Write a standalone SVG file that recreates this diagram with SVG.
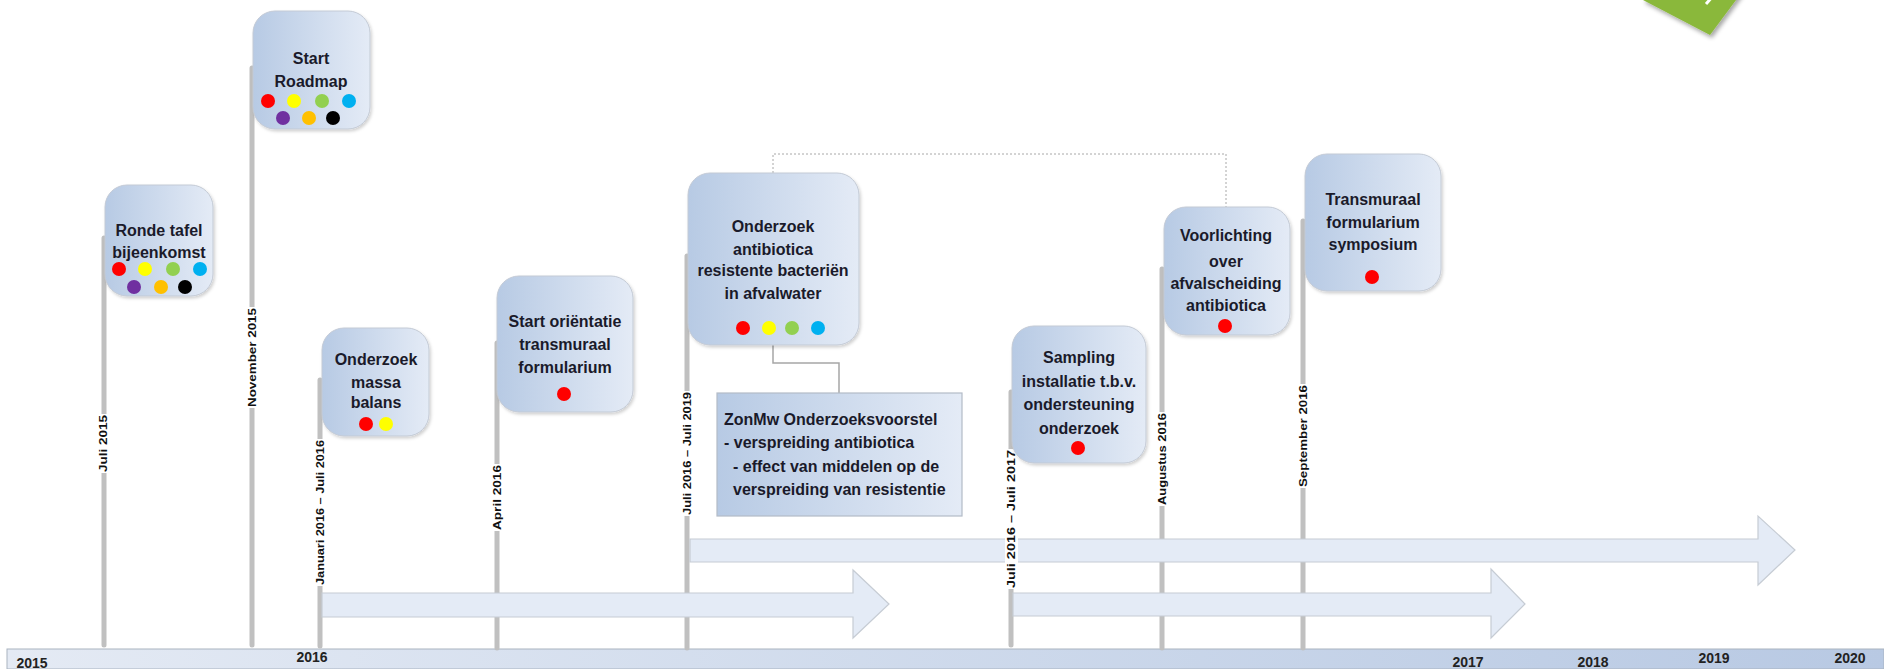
<svg xmlns="http://www.w3.org/2000/svg" width="1884" height="669" viewBox="0 0 1884 669">
<defs>
<linearGradient id="boxg" x1="0" y1="0" x2="1" y2="0">
<stop offset="0" stop-color="#b7cae4"/>
<stop offset="1" stop-color="#e4ebf6"/>
</linearGradient>
<linearGradient id="barg" x1="0" y1="0" x2="1" y2="0">
<stop offset="0" stop-color="#e4eaf4"/>
<stop offset="1" stop-color="#b8c9e3"/>
</linearGradient>
<filter id="sh" x="-10%" y="-10%" width="130%" height="130%">
<feDropShadow dx="1.5" dy="2" stdDeviation="1.5" flood-color="#000" flood-opacity="0.18"/>
</filter>
<filter id="gsh" x="-30%" y="-30%" width="160%" height="160%">
<feDropShadow dx="2" dy="3" stdDeviation="2" flood-color="#000" flood-opacity="0.35"/>
</filter>
</defs>
<style>
.box{fill:url(#boxg);stroke:#c3cad5;stroke-width:1;filter:url(#sh)}
.t{font-family:"Liberation Sans",Arial,sans-serif;font-weight:bold;font-size:16px;fill:#1a1a2a;text-anchor:middle}
.tl{font-family:"Liberation Sans",Arial,sans-serif;font-weight:bold;font-size:16px;fill:#1a1a2a}
.pole{stroke:#c0c0c0;stroke-width:5;stroke-linecap:round;fill:none}
.rt{font-family:"Liberation Sans",Arial,sans-serif;font-weight:bold;font-size:11px;fill:#111}
.arr{fill:#e4ebf6;stroke:#c6ccd4;stroke-width:1.2}
.yr{font-family:"Liberation Sans",Arial,sans-serif;font-weight:bold;font-size:14px;fill:#222;text-anchor:middle}
.red{fill:#ff0000}.yel{fill:#ffff00}.grn{fill:#92d050}.blu{fill:#00b0f0}.pur{fill:#7030a0}.ora{fill:#ffc000}.blk{fill:#000}
</style>

<g id="green-corner">
<polygon points="1643,0 1710,35 1742,-8 1675,-43" fill="#8ab83a" filter="url(#gsh)"/>
<path d="M1706,4 L1713,-4" stroke="#fff" stroke-width="3"/>
</g>

<g id="timeline-bar">
<rect x="7" y="649" width="1877" height="20" fill="url(#barg)" stroke="#a9b3c0" stroke-width="1"/>
<text class="yr" x="32" y="668">2015</text>
<text class="yr" x="312" y="662">2016</text>
<text class="yr" x="1468" y="667">2017</text>
<text class="yr" x="1593" y="667">2018</text>
<text class="yr" x="1714" y="663">2019</text>
<text class="yr" x="1850" y="663">2020</text>
</g>

<g id="poles">
<line class="pole" x1="104" y1="238" x2="104" y2="645"/>
<line class="pole" x1="252" y1="68" x2="252" y2="645"/>
<line class="pole" x1="320" y1="380" x2="320" y2="646"/>
<line class="pole" x1="497" y1="343" x2="497" y2="648"/>
<line class="pole" x1="687" y1="256" x2="687" y2="648"/>
<line class="pole" x1="1011" y1="392" x2="1011" y2="645"/>
<line class="pole" x1="1162" y1="269" x2="1162" y2="648"/>
<line class="pole" x1="1303" y1="221" x2="1303" y2="648"/>
</g>

<g id="arrows">
<polygon class="arr" points="322,593 853,593 853,570 889,604 853,638 853,617 322,617"/>
<polygon class="arr" points="690,539 1758,539 1758,516 1795,550 1758,585 1758,562 690,562"/>
<polygon class="arr" points="1013,593 1491,593 1491,569 1525,604 1491,638 1491,616 1013,616"/>
</g>

<g id="date-labels">
<g transform="translate(103,472) rotate(-90)"><rect x="-1" y="-5" width="59" height="11" fill="#fff"/><text class="rt" x="0" y="4" textLength="57" lengthAdjust="spacingAndGlyphs">Juli 2015</text></g>
<g transform="translate(252,407) rotate(-90)"><rect x="-1" y="-5" width="101" height="11" fill="#fff"/><text class="rt" x="0" y="4" textLength="99" lengthAdjust="spacingAndGlyphs">November 2015</text></g>
<g transform="translate(320,585) rotate(-90)"><rect x="-1" y="-5" width="147" height="11" fill="#fff"/><text class="rt" x="0" y="4" textLength="145" lengthAdjust="spacingAndGlyphs">Januari 2016 – Juli 2016</text></g>
<g transform="translate(497,530) rotate(-90)"><rect x="-1" y="-5" width="67" height="11" fill="#fff"/><text class="rt" x="0" y="4" textLength="65" lengthAdjust="spacingAndGlyphs">April 2016</text></g>
<g transform="translate(687,515) rotate(-90)"><rect x="-1" y="-5" width="125" height="11" fill="#fff"/><text class="rt" x="0" y="4" textLength="123" lengthAdjust="spacingAndGlyphs">Juli 2016 – Juli 2019</text></g>
<g transform="translate(1011,588) rotate(-90)"><rect x="-1" y="-6" width="140" height="13" fill="#fff"/><text class="rt" x="0" y="4" textLength="138" lengthAdjust="spacingAndGlyphs">Juli 2016 – Juli 2017</text></g>
<g transform="translate(1162,505) rotate(-90)"><rect x="-1" y="-5" width="94" height="11" fill="#fff"/><text class="rt" x="0" y="4" textLength="92" lengthAdjust="spacingAndGlyphs">Augustus 2016</text></g>
<g transform="translate(1303,487) rotate(-90)"><rect x="-1" y="-5" width="104" height="11" fill="#fff"/><text class="rt" x="0" y="4" textLength="102" lengthAdjust="spacingAndGlyphs">September 2016</text></g>
</g>

<g id="connectors" fill="none">
<path d="M773,173 V154 H1226 V207" stroke="#a8a8a8" stroke-width="1" stroke-dasharray="2,2"/>
<path d="M773,345 V363 H839 V393" stroke="#a6a6a6" stroke-width="1.5"/>
</g>

<g id="node-ronde-tafel">
<rect class="box" x="105" y="185" width="108" height="111" rx="22"/>
<text class="t" x="159" y="236">Ronde tafel</text>
<text class="t" x="159" y="258">bijeenkomst</text>
<circle class="red" cx="119" cy="269" r="7"/><circle class="yel" cx="145" cy="269" r="7"/><circle class="grn" cx="173" cy="269" r="7"/><circle class="blu" cx="200" cy="269" r="7"/>
<circle class="pur" cx="134" cy="287" r="7"/><circle class="ora" cx="161" cy="287" r="7"/><circle class="blk" cx="185" cy="287" r="7"/>
</g>

<g id="node-start-roadmap">
<rect class="box" x="253" y="11" width="117" height="118" rx="22"/>
<text class="t" x="311" y="64">Start</text>
<text class="t" x="311" y="87">Roadmap</text>
<circle class="red" cx="268" cy="101" r="7"/><circle class="yel" cx="294" cy="101" r="7"/><circle class="grn" cx="322" cy="101" r="7"/><circle class="blu" cx="349" cy="101" r="7"/>
<circle class="pur" cx="283" cy="118" r="7"/><circle class="ora" cx="309" cy="118" r="7"/><circle class="blk" cx="333" cy="118" r="7"/>
</g>

<g id="node-massa-balans">
<rect class="box" x="322" y="328" width="107" height="108" rx="22"/>
<text class="t" x="376" y="365">Onderzoek</text>
<text class="t" x="376" y="388">massa</text>
<text class="t" x="376" y="408">balans</text>
<circle class="red" cx="366" cy="424" r="7"/><circle class="yel" cx="386" cy="424" r="7"/>
</g>

<g id="node-orientatie">
<rect class="box" x="497" y="276" width="136" height="136" rx="22"/>
<text class="t" x="565" y="327">Start oriëntatie</text>
<text class="t" x="565" y="350">transmuraal</text>
<text class="t" x="565" y="373">formularium</text>
<circle class="red" cx="564" cy="394" r="7"/>
</g>

<g id="node-antibiotica">
<rect class="box" x="688" y="173" width="171" height="172" rx="22"/>
<text class="t" x="773" y="232">Onderzoek</text>
<text class="t" x="773" y="255">antibiotica</text>
<text class="t" x="773" y="276">resistente bacteriën</text>
<text class="t" x="773" y="299">in afvalwater</text>
<circle class="red" cx="743" cy="328" r="7"/><circle class="yel" cx="769" cy="328" r="7"/><circle class="grn" cx="792" cy="328" r="7"/><circle class="blu" cx="818" cy="328" r="7"/>
</g>

<g id="node-zonmw">
<rect x="717" y="393" width="245" height="123" fill="url(#boxg)" stroke="#b3bbc7" stroke-width="1.2"/>
<text class="tl" x="724" y="425">ZonMw Onderzoeksvoorstel</text>
<text class="tl" x="724" y="448">- verspreiding antibiotica</text>
<text class="tl" x="733" y="472">- effect van middelen op de</text>
<text class="tl" x="733" y="495">verspreiding van resistentie</text>
</g>

<g id="node-sampling">
<rect class="box" x="1012" y="326" width="134" height="137" rx="22"/>
<text class="t" x="1079" y="363">Sampling</text>
<text class="t" x="1079" y="387">installatie t.b.v.</text>
<text class="t" x="1079" y="410">ondersteuning</text>
<text class="t" x="1079" y="434">onderzoek</text>
<circle class="red" cx="1078" cy="448" r="7"/>
</g>

<g id="node-voorlichting">
<rect class="box" x="1164" y="207" width="126" height="128" rx="22"/>
<text class="t" x="1226" y="241">Voorlichting</text>
<text class="t" x="1226" y="267">over</text>
<text class="t" x="1226" y="289">afvalscheiding</text>
<text class="t" x="1226" y="311">antibiotica</text>
<circle class="red" cx="1225" cy="326" r="7"/>
</g>

<g id="node-transmuraal">
<rect class="box" x="1305" y="154" width="136" height="137" rx="22"/>
<text class="t" x="1373" y="205">Transmuraal</text>
<text class="t" x="1373" y="228">formularium</text>
<text class="t" x="1373" y="250">symposium</text>
<circle class="red" cx="1372" cy="277" r="7"/>
</g>
</svg>
